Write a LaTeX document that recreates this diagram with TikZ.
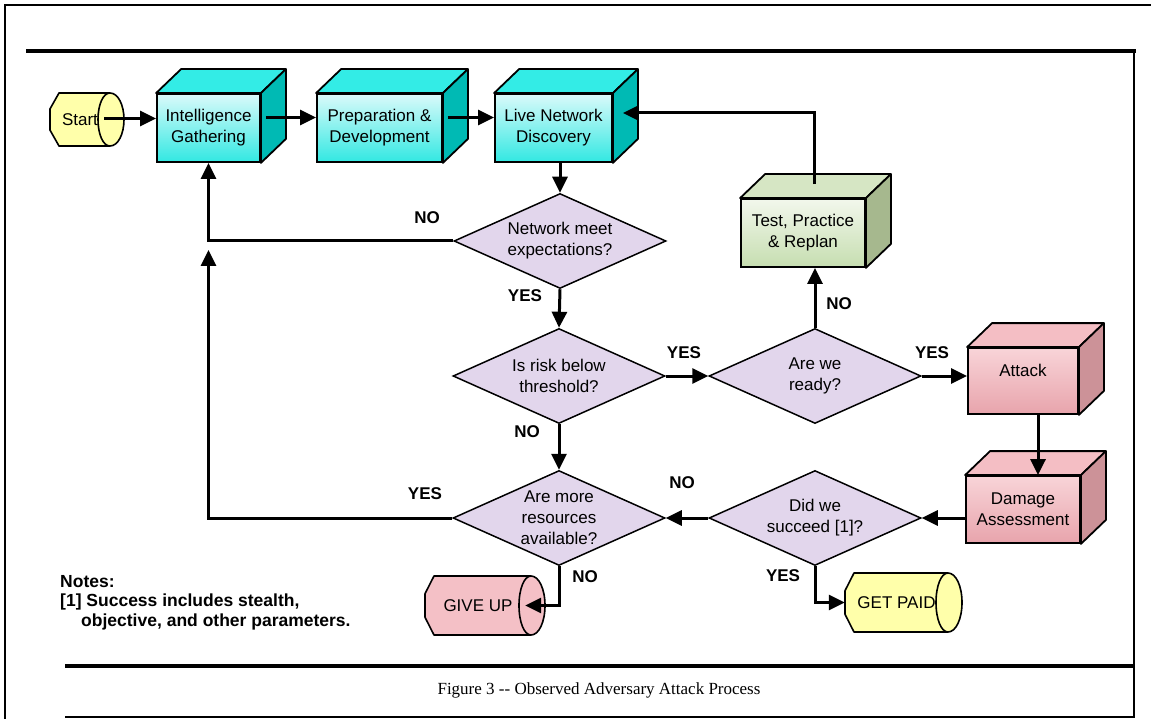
\documentclass[tikz,border=0pt]{standalone}
\usepackage{fontspec}
\setmainfont{Liberation Sans}
\newfontfamily\capfont{Liberation Serif}
\usetikzlibrary{arrows.meta,calc,shapes.geometric}
\definecolor{cyTop}{RGB}{51,236,230}
\definecolor{cySide}{RGB}{0,186,180}
\definecolor{cyF1}{RGB}{218,250,250}
\definecolor{cyF2}{RGB}{50,232,226}
\definecolor{grTop}{RGB}{214,230,196}
\definecolor{grSide}{RGB}{166,184,142}
\definecolor{grF1}{RGB}{242,247,236}
\definecolor{grF2}{RGB}{198,222,176}
\definecolor{pkTop}{RGB}{244,190,196}
\definecolor{pkSide}{RGB}{204,146,152}
\definecolor{pkF1}{RGB}{248,212,216}
\definecolor{pkF2}{RGB}{232,164,172}
\definecolor{dFill}{RGB}{226,214,236}
\definecolor{yCyl}{RGB}{255,255,170}
\definecolor{pCyl}{RGB}{244,192,198}
\tikzset{
  face/.style={line width=1.8pt, line join=round},
  cylline/.style={line width=1.6pt, line join=round},
  txt/.style={font=\fontsize{17}{21}\selectfont, align=center},
  frontbox/.style={draw, line width=1.8pt, minimum width=#1, inner sep=0pt, txt},
  cyanbox/.style={frontbox=#1, top color=cyF1, bottom color=cyF2, minimum height=68pt},
  greenbox/.style={frontbox=#1, top color=grF1, bottom color=grF2, minimum height=68pt},
  pinkbox/.style={frontbox=#1, top color=pkF1, bottom color=pkF2, minimum height=67pt},
  dia/.style={diamond, draw, line width=1.5pt, fill=dFill, minimum width=212pt, minimum height=95pt, inner sep=0pt},
  conn/.style={line width=3pt, -{Triangle[length=16pt,width=15pt]}},
  lbl/.style={font=\bfseries\fontsize{17}{20}\selectfont, inner sep=0pt},
  note/.style={font=\bfseries\fontsize{17.5}{20}\selectfont, inner sep=0pt, anchor=west},
  frame/.style={line width=2pt},
  framethick/.style={line width=3.2pt}
}
\newcommand\cubefaces[3]{%
  \filldraw[face, fill=#2] (#1.north west) -- ++(25,-24) -- ($(#1.north east)+(25,-24)$) -- (#1.north east) -- cycle;
  \filldraw[face, fill=#3] (#1.north east) -- ++(25,-24) -- ($(#1.south east)+(25,-24)$) -- (#1.south east) -- cycle;
}
\newcommand\cylinder[7]{%
  \pgfmathsetmacro\cyM{(#3+#5)/2}
  \pgfmathsetmacro\cyK{0.552*(#5-#3)/2}
  \pgfmathsetmacro\cyC{0.3*(#5-#3)}
  \filldraw[cylline, fill=#6] ({#2+9},#3) -- ({#4-14},#3) .. controls ({#4-6},#3) and (#4,{\cyM-\cyK}) .. (#4,\cyM) .. controls (#4,{\cyM+\cyK}) and ({#4-6},#5) .. ({#4-14},#5) -- ({#2+9},#5) -- (#2,{#5-\cyC}) -- (#2,{#3+\cyC}) -- cycle;
  \draw[cylline] ({#4-14},#3) .. controls ({#4-21},#3) and ({#4-26},{\cyM-\cyK}) .. ({#4-26},\cyM) .. controls ({#4-26},{\cyM+\cyK}) and ({#4-21},#5) .. ({#4-14},#5);
  \node[txt, minimum width={#4-#2}, minimum height={#5-#3}, inner sep=0pt] (#1) at ({(#2+#4)/2},\cyM) {\hspace*{-14pt}#7};
}
\begin{document}
\begin{tikzpicture}[x=1pt,y=-1pt]
\useasboundingbox (0,0) rectangle (1151,719);
% frame
\draw[frame] (4,5) -- (1151,5);
\draw[frame] (5,5) -- (5,719);
\draw[framethick] (26,51) -- (1135.5,51);
\draw[frame] (1134,51) -- (1134,718);
\draw[framethick] (65,666) -- (1135,666);
\draw[frame] (65,717) -- (1135,717);

% cylinders
\cylinder{start}{50}{93}{124}{146}{yCyl}{Start}
\cylinder{giveup}{425}{576}{545}{635}{pCyl}{GIVE UP}
\cylinder{getpaid}{845}{573}{962}{632}{yCyl}{GET PAID}

% cubes
\node[cyanbox=103pt] (box1) at (208.5,128) {Intelligence\\Gathering};
\cubefaces{box1}{cyTop}{cySide}
\node[cyanbox=125pt] (box2) at (379.5,128) {Preparation \&\\Development};
\cubefaces{box2}{cyTop}{cySide}
\node[cyanbox=117pt] (box3) at (553.5,128) {Live Network\\Discovery};
\cubefaces{box3}{cyTop}{cySide}
\node[greenbox=124pt] (test) at (803,233) {Test, Practice\\\& Replan};
\cubefaces{test}{grTop}{grSide}
\node[pinkbox=110pt, minimum height=66pt] (attack) at (1023,381) {};
\cubefaces{attack}{pkTop}{pkSide}
\node[txt, inner sep=0pt] (attackt) at (1023,370) {Attack};
\node[pinkbox=114pt] (damage) at (1023,509.5) {Damage\\Assessment};
\cubefaces{damage}{pkTop}{pkSide}

% diamonds
\node[dia] (d1) at (560,241) {};
\node[txt, inner sep=0pt] (d1t) at (d1) {Network meet\\expectations?};
\node[dia] (d2) at (559,376) {};
\node[txt, inner sep=0pt] (d2t) at (d2) {Is risk below\\threshold?};
\node[dia] (d3) at (815,376) {};
\node[txt, inner sep=0pt] (d3t) at (d3) {Are we\\ready?};
\node[dia] (d4) at (559,518) {};
\node[txt, inner sep=0pt] (d4t) at (d4) {Are more\\resources\\available?};
\node[dia] (d5) at (815,518) {};
\node[txt, inner sep=0pt] (d5t) at (d5) {Did we\\succeed [1]?};

% connectors
\draw[conn] ($(start.east)+(-20,-1)$) -- ($(start.east -| box1.west)+(0,-1)$);
\draw[conn] ($(box1.east |- start.east)+(5,-2)$) -- ($(start.east -| box2.west)+(0,-2)$);
\draw[conn] ($(box2.east |- start.east)+(5,-2)$) -- ($(start.east -| box3.west)+(0,-2)$);
\draw[conn] (d1.north |- box3.south) -- (d1.north);
\draw[conn] (d1.west) -| (box1.south);
\draw[conn] (d1.south) -- (d2.north);
\draw[conn] (d2.east) -- (d3.west);
\draw[conn] (d2.south) -- (d4.north);
\draw[conn] (d3.north) -- (d3.north |- test.south);
\draw[conn] ($(test.north)+(11,-14)$) |- ($(box3.east)+(10,-15)$);
\draw[conn] (d3.east) -- (d3.east -| attack.west);
\draw[conn] ($(attack.south)+(15,0)$) -- ($(damage.north)+(15,0)$);
\draw[conn] (d5.east -| damage.west) -- (d5.east);
\draw[conn] (d5.west) -- (d4.east);
\coordinate (yt) at ($(box1.south |- d1.west)+(0,9)$);
\draw[conn] (d4.west) -| (yt);
\draw[conn] (d4.south) |- ($(giveup.east)+(-20,0)$);
\draw[conn] (d5.south) |- (getpaid.west);

% labels
\node[lbl] (l1) at (427,218) {NO};
\node[lbl] (l2) at (525,296) {YES};
\node[lbl] (l3) at (684,353) {YES};
\node[lbl] (l4) at (527,432) {NO};
\node[lbl] (l5) at (839,304) {NO};
\node[lbl] (l6) at (932,353) {YES};
\node[lbl] (l7) at (682,483) {NO};
\node[lbl] (l8) at (425,494) {YES};
\node[lbl] (l9) at (585,577) {NO};
\node[lbl] (l10) at (783,576) {YES};

% notes
\node[note] (n1) at (60,582) {Notes:};
\node[note] (n2) at (60,602) {[1] Success includes stealth,};
\node[note] (n3) at (81,622) {objective, and other parameters.};

% caption
\node[font=\capfont\fontsize{17}{20}\selectfont, inner sep=0pt] (cap) at (599,690) {Figure 3 -- Observed Adversary Attack Process};
\end{tikzpicture}
\end{document}
